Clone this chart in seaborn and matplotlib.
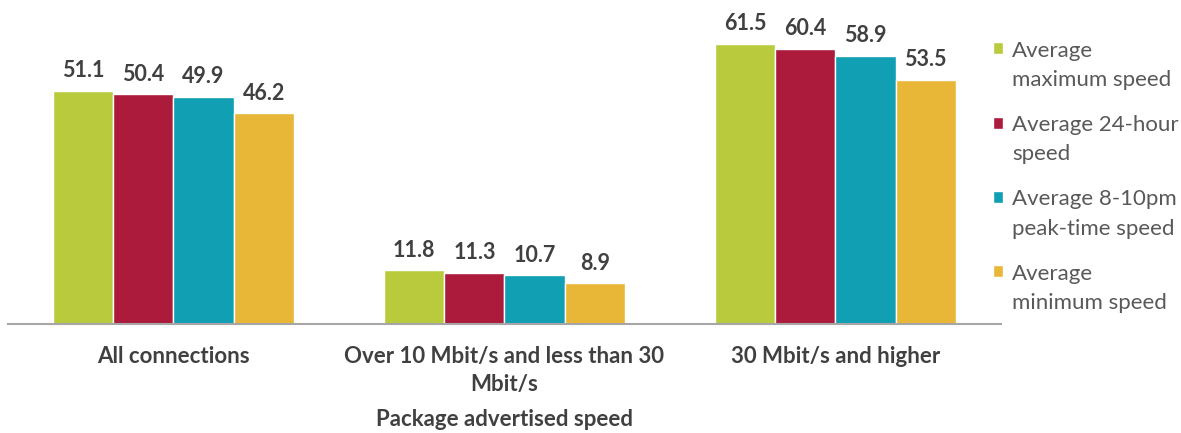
import matplotlib
matplotlib.use("Agg")
import matplotlib.pyplot as plt
import seaborn as sns
import pandas as pd
from matplotlib.patches import Rectangle
from matplotlib.legend_handler import HandlerPatch

categories = ["All connections", "Over 10 Mbit/s and less than 30\nMbit/s", "30 Mbit/s and higher"]
series = ["Average\nmaximum speed", "Average 24-hour\nspeed", "Average 8-10pm\npeak-time speed", "Average\nminimum speed"]
max_speed = [51.1, 11.8, 61.5]
h24_speed = [50.4, 11.3, 60.4]
peak_speed = [49.9, 10.7, 58.9]
min_speed = [46.2, 8.9, 53.5]
colors = ["#B9CB3D", "#AC1A3C", "#109FB3", "#E8B737"]

rows = []
for s, vals in zip(series, [max_speed, h24_speed, peak_speed, min_speed]):
    for c, v in zip(categories, vals):
        rows.append({"cat": c, "series": s, "value": v})
df = pd.DataFrame(rows)

sns.set_theme(style="white")
plt.rcParams['font.family'] = ['Lato', 'DejaVu Sans']

fig = plt.figure(figsize=(11.81, 4.33), dpi=100)
ax = fig.add_axes([8/1181, 1 - 324/433, (1001-8)/1181, (324-5)/433])
sns.barplot(data=df, x="cat", y="value", hue="series", palette=colors,
            width=0.727, edgecolor="white", linewidth=1, ax=ax, saturation=1)
ax.set_ylim(0, 70)
ax.set_xlim(-0.5, 2.5)
for cont in ax.containers:
    ax.bar_label(cont, fmt="%.1f", padding=7, fontsize=15.5, fontweight="bold", color="#404040")
for sp in ["top", "right", "left"]:
    ax.spines[sp].set_visible(False)
ax.spines["bottom"].set_color("#A6A6A6")
ax.spines["bottom"].set_linewidth(1.5)
ax.set_yticks([])
ax.set_ylabel("")
ax.set_xlabel("Package advertised speed", fontsize=16, fontweight="bold", color="#404040", labelpad=10)
ax.tick_params(axis="x", length=0, pad=16)
for t in ax.get_xticklabels():
    t.set_fontsize(16)
    t.set_fontweight("bold")
    t.set_color("#404040")
    t.set_linespacing(1.42)


def make_patch(legend, orig_handle, xdescent, ydescent, width, height, fontsize):
    return Rectangle((-xdescent, -ydescent + 0.78 * fontsize), width, height)


handles, labels = ax.get_legend_handles_labels()
leg = ax.legend(handles, labels, loc="upper left", bbox_to_anchor=(993/1181, 1 - 41/433),
                bbox_transform=fig.transFigure, frameon=False, fontsize=16,
                labelspacing=1.12, handlelength=0.45, handleheight=0.45,
                handletextpad=0.4, borderpad=0, borderaxespad=0,
                handler_map={Rectangle: HandlerPatch(patch_func=make_patch)})
for t in leg.get_texts():
    t.set_color("#595959")
    t.set_linespacing(1.58)
fig.savefig("out.png", dpi=100)
